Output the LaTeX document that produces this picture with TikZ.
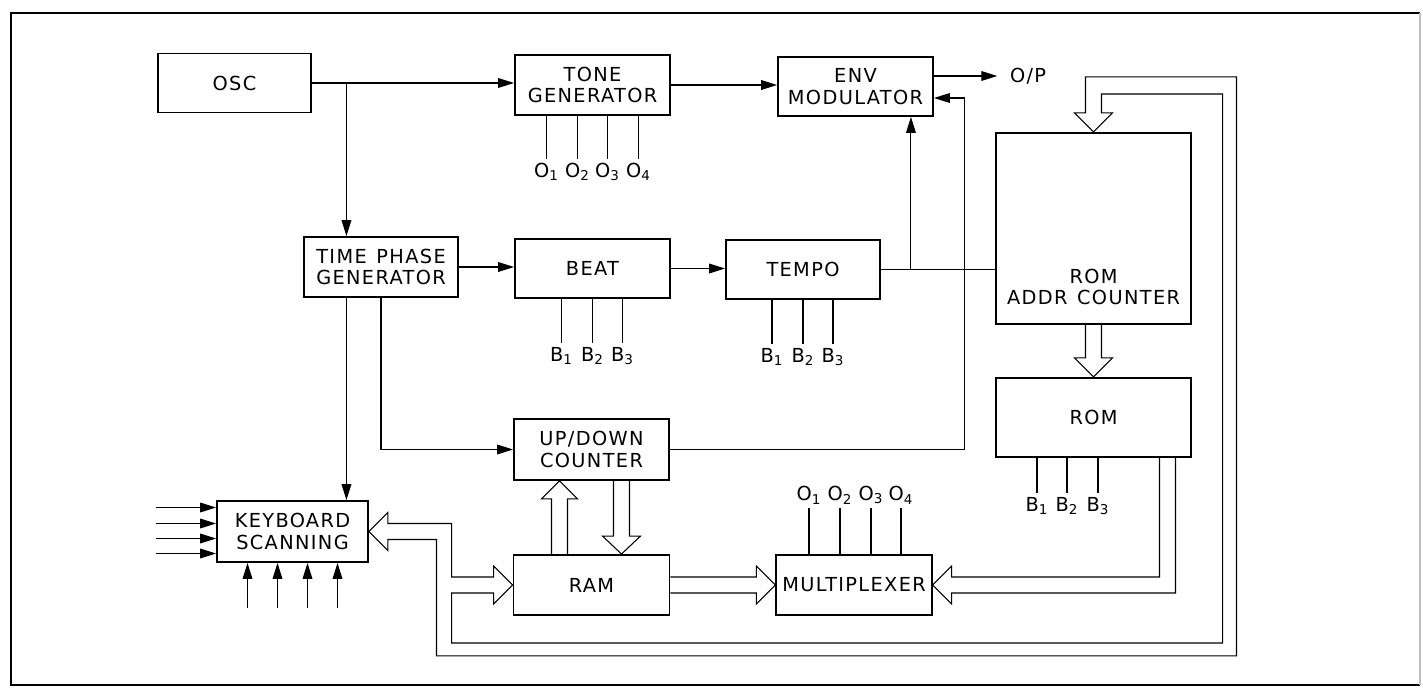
\documentclass[tikz,border=0pt]{standalone}
\usepackage{fontspec}
\setmainfont{DejaVu Sans}[LetterSpace=7]
\usetikzlibrary{positioning,calc,arrows.meta}
\tikzset{
  blk/.style={rectangle, minimum width=3.1cm, minimum height=1.2cm, text centered, align=center, draw=black, line width=1.1pt, font=\fontsize{11}{12.2}\selectfont},
  pinlbl/.style={inner sep=2pt, font=\fontsize{11}{12}\selectfont},
  bus/.style={line width=0.6pt, line join=miter},
  >={Triangle[length=9pt,width=5.5pt]}
}
\begin{document}
\begin{tikzpicture}[x=0.02cm, y=-0.02cm, line width=0.6pt]
	\useasboundingbox (0,0) rectangle (1423,689);
	% frame
	\draw[line width=1.2pt] (1420,13) -- (11,13) -- (11,685) -- (1420,685);
	\draw[black!25] (1420,13) -- (1420,685);
	%
	\node[blk, minimum width=3.06cm, minimum height=1.18cm] (osc) at (234.5,83) {OSC};
	\node[blk] (tone) at (592.5,85) {TONE\\GENERATOR};
	\node[blk, minimum height=1.18cm] (env) at (855.5,86.5) {ENV\\MODULATOR};
	\node[blk, minimum width=3.08cm] (tpg) at (381,267) {TIME\hspace{0.5em}PHASE\\GENERATOR};
	\node[blk, minimum height=1.18cm] (beat) at (592.5,268.5) {BEAT};
	\node[blk, minimum width=3.08cm, minimum height=1.18cm] (tempo) at (803,269.5) {TEMPO};
	\node[blk, minimum width=3.9cm, minimum height=3.82cm, line width=1.4pt,
	  label={[pinlbl, align=center, anchor=south, yshift=3.3mm]south:ROM\\ADDR\hspace{0.5em}COUNTER}] (radr) at (1093.5,228.5) {};
	\node[blk, minimum width=3.9cm, minimum height=1.58cm, line width=1.4pt] (rom) at (1093.5,417.5) {ROM};
	\node[blk, minimum height=1.22cm] (updn) at (591.5,449.5) {UP/DOWN\\COUNTER};
	\node[blk, minimum width=3.12cm] (ram) at (591.5,585) {RAM};
	\node[blk, minimum width=3.08cm] (mux) at (854,585) {MULTIPLEXER};
	\node[blk, minimum width=3.02cm, minimum height=1.22cm] (kbd) at (292.5,531.5) {KEYBOARD\\SCANNING};
	\node[pinlbl, anchor=west] (op) at (1006,76) {O/P};
	%
	\coordinate (osp) at ($(osc.east)+(34.5,0)$);
	\coordinate (tsp) at ($(tempo.east)+(30,0)$);
	\coordinate (envin) at ($(env.east)+(31,11.5)$);
	%
	\draw[->] (osc.east) -- (osc.east -| tone.west);
	\draw[->] (osp) -- (osp |- tpg.north);
	\draw[->] (tone.east) -- (tone.east -| env.west);
	\draw[->, shorten >=5pt] (env.east |- op) -- (op.west);
	\draw[->] (tpg.east) -- (tpg.east -| beat.west);
	\draw[->] (beat.east) -- (beat.east -| tempo.west);
	\draw (tempo.east) -- (tempo.east -| radr.west);
	\draw[->] (tsp) -- (tsp |- env.south);
	\draw[->] (updn.east) -| (envin) -- (envin -| env.east);
	\draw[->] (tpg.south) |- (updn.west);
	\draw[->] (osp |- tpg.south) -- (osp |- kbd.north);
	%
	\foreach \dy in {-24,-8,7,22}
		\draw[->] ($(kbd.west)+(-60,\dy)$) -- ($(kbd.west)+(0,\dy)$);
	\foreach \dx in {-45,-15,15,45}
		\draw[->] ($(kbd.south)+(\dx,45)$) -- ($(kbd.south)+(\dx,0)$);
	%
	\foreach \i/\dx in {1/-46,2/-15,3/15,4/46}
		\draw (tone.south) ++(\dx,0) -- ++(0,43) node[pinlbl, below] {O\textsubscript{\i}};
	\foreach \i/\dx in {1/-31,2/0,3/30}
		\draw (beat.south) ++(\dx,0) -- ++(0,44) node[pinlbl, below] {B\textsubscript{\i}};
	\foreach \i/\dx in {1/-31,2/0,3/30}
		\draw (tempo.south) ++(\dx,0) -- ++(0,44) node[pinlbl, below] {B\textsubscript{\i}};
	\foreach \i/\dx in {1/-56.5,2/-26.5,3/4.5}
		\draw (rom.south) ++(\dx,0) -- ++(0,35) node[pinlbl, below] {B\textsubscript{\i}};
	\foreach \i/\dx in {1/-45,2/-14,3/17,4/47}
		\draw (mux.north) ++(\dx,0) -- ++(0,-46) node[pinlbl, above] {O\textsubscript{\i}};
	%
	% wide bus arrows
	\draw[bus] ($(radr.south)+(-8,0)$) -- ($(rom.north)+(-8,-19)$) -- ++(-11,0) -- (rom.north) -- ++(19,-19) -- ++(-11,0) -- ($(radr.south)+(8,0)$);
	\draw[bus] ($(ram.north)+(-40,0)$) -- ($(updn.south)+(-40,18)$) -- ++(-10,0) -- ($(updn.south)+(-32,0)$) -- ++(18,18) -- ++(-10,0) -- ($(ram.north)+(-24,0)$);
	\draw[bus] ($(updn.south)+(22,0)$) -- ($(ram.north)+(22,-18)$) -- ++(-11,0) -- ($(ram.north)+(30,0)$) -- ++(19,-18) -- ++(-11,0) -- ($(updn.south)+(38,0)$);
	\draw[bus] ($(ram.east)+(0,-8)$) -- ($(mux.west)+(-19,-8)$) -- ++(0,-11) -- (mux.west) -- ++(-19,19) -- ++(0,-11) -- ($(ram.east)+(0,8)$);
	\draw[bus] ($(rom.south)+(82,0)$) |- ($(mux.east)+(19,8)$) -- ++(0,11) -- (mux.east) -- ++(19,-19) -- ++(0,11) -| ($(rom.south)+(66,0)$);
	\draw[bus] ($(kbd.east)+(19,-8)$) -| ($(ram.west)+(-61,-8)$) -- ($(ram.west)+(-19,-8)$) -- ++(0,-11) -- (ram.west) -- ++(-19,19) -- ++(0,-11) -- ++(-42,0)
		-- ++(0,50) -- ++(771,0) -- ++(0,-549) -| ($(radr.north)+(8,-19)$) -- ++(11,0) -- (radr.north) -- ++(-19,-19) -- ++(11,0)
		-- ++(0,-36) -- ++(151,0) -- ++(0,579) -- ++(-800,0) |- ($(kbd.east)+(19,8)$) -- ++(0,11) -- (kbd.east) -- ++(19,-19) -- cycle;
\end{tikzpicture}
\end{document}
